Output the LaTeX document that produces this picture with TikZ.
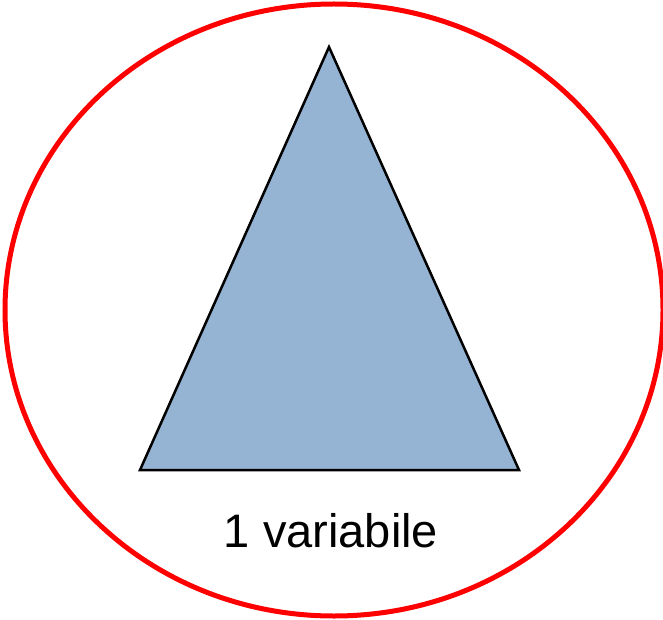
\documentclass[tikz,border=0pt]{standalone}
\usepackage{fontspec}
\setmainfont{Liberation Sans}
\definecolor{tri}{HTML}{95B3D3}
\tikzset{
  ring/.style={draw=red,line width=5pt},
  trishape/.style={draw=black,fill=tri,line width=2.5pt,line join=miter},
  lbl/.style={font=\fontsize{47}{52}\selectfont,anchor=base,inner sep=0pt}
}
\begin{document}
\begin{tikzpicture}[x=1pt,y=-1pt]
\useasboundingbox (0,0) rectangle (663,620);
\draw[ring] (334,310) ellipse [x radius=329, y radius=306];
\coordinate (A) at (329,47);
\coordinate (B) at (140,470);
\coordinate (C) at (519,470);
\draw[trishape] (A) -- (B) -- (C) -- cycle;
\node[lbl] (t) at (331,547) {1 variabile};
\end{tikzpicture}
\end{document}
